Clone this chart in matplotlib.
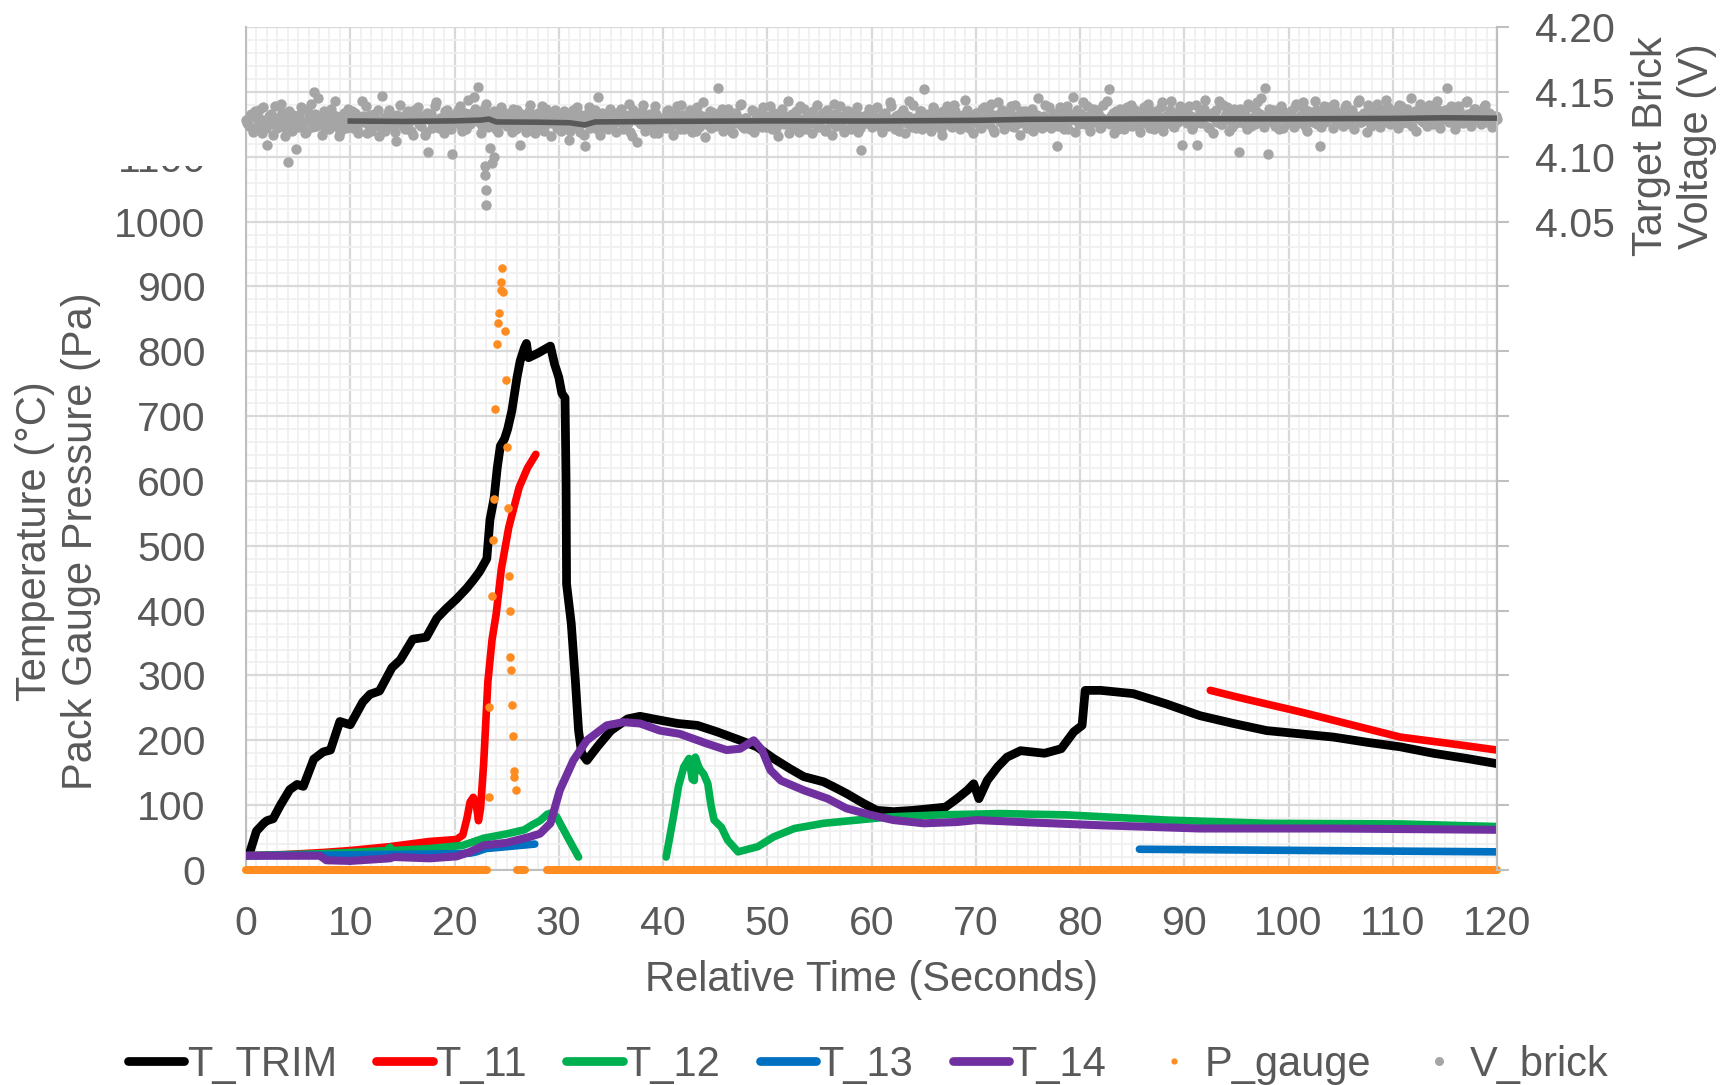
import numpy as np
import matplotlib
matplotlib.use("Agg")
import matplotlib.pyplot as plt
from matplotlib.lines import Line2D
from matplotlib.patches import Rectangle

plt.rcParams['font.family'] = ['Liberation Sans', 'DejaVu Sans']

# ---------------- data ----------------
trim_t = [0, 0.4, 1.0, 1.7, 2.0, 2.6, 3.3, 4.2, 4.9, 5.5, 6.5, 7.4, 8.1, 9.0, 10.0, 11.2, 11.9,
          12.8, 14.0, 14.8, 16.0, 17.3, 18.3, 19.2, 20.2, 21.2, 21.8, 22.4, 23.1, 23.4, 23.8,
          24.1, 24.4, 24.8, 25.1, 25.5, 26.0, 26.3, 26.7, 26.9, 27.1, 28.0, 29.2, 29.6, 30.0,
          30.3, 30.6, 30.7, 30.75, 31.2, 31.6, 31.9, 32.2, 32.7, 33.7, 35.0, 36.6, 37.8, 39.4,
          41.4, 43.3, 45.2, 47.4, 49.0, 50.6, 52.2, 53.5, 55.4, 56.4, 57.6, 59.2, 60.5, 62.1,
          64.0, 65.9, 67.1, 68.2, 69.2, 69.8, 70.3, 71.1, 72.1, 73.0, 74.3, 76.6, 78.2, 79.4,
          80.2, 80.5, 82.0, 85.1, 88.3, 91.5, 94.7, 97.9, 101.1, 104.3, 107.5, 110.7, 113.9,
          117.1, 120.0]
trim_v = [22, 29, 60, 72, 76, 79, 100, 124, 132, 129, 171, 182, 185, 229, 224, 259, 271,
          276, 312, 324, 356, 359, 388, 403, 418, 435, 447, 460, 480, 540, 574,
          620, 654, 665, 680, 708, 760, 785, 805, 812, 790, 797, 808, 780, 760,
          735, 728, 600, 441, 380, 290, 215, 180, 169, 190, 215, 233, 237, 232,
          226, 223, 213, 200, 190, 172, 156, 144, 136, 128, 118, 103, 92, 90,
          92, 95, 97, 110, 123, 133, 110, 138, 159, 174, 184, 180, 187, 213,
          223, 277, 277, 272, 256, 238, 226, 215, 210, 205, 197, 190, 180,
          172, 164]

t11_a_t = [0, 4.0, 7.4, 10.0, 13.8, 17.6, 20.2, 20.8, 21.2, 21.5, 21.8, 22.1, 22.3, 22.5,
           22.8, 23.2, 23.6, 24.0, 24.5, 25.2, 26.2, 27.0, 27.8]
t11_a_v = [22, 24, 27, 30, 36, 44, 47, 54, 80, 105, 112, 100, 76, 95,
           165, 290, 355, 395, 465, 528, 590, 620, 641]
t11_b_t = [92.5, 95.0, 97.9, 101.1, 104.3, 107.5, 110.7, 115.0, 120.0]
t11_b_v = [277, 267, 256, 244, 231, 218, 205, 196, 185]

t12_a_t = [0, 7.1, 10.0, 13.5, 13.8, 14.1, 17.6, 20.8, 22.8, 25.1, 26.7, 27.5, 28.2, 28.9,
           29.3, 29.8, 30.8, 31.9]
t12_a_v = [22, 25, 27, 30, 35, 30, 33, 38, 49, 56, 62, 70, 76, 86,
           88, 82, 52, 20]
t12_b_t = [40.3, 41.0, 41.5, 42.0, 42.5, 42.8, 43.0, 43.1, 43.4, 43.6, 43.9, 44.3, 44.6, 44.9,
           45.6, 46.2, 47.2, 49.1, 50.6, 52.6, 55.4, 58.6, 61.8, 66.6, 72.3, 78.7, 88.3,
           97.9, 110.7, 120.0]
t12_b_v = [20, 82, 130, 159, 172, 140, 138, 174, 160, 154, 148, 133, 100, 77,
           66, 46, 28, 36, 51, 64, 72, 77, 82, 85, 87, 85, 77,
           72, 71, 67]

t13_a_t = [0, 7.7, 13.0, 20.0, 21.5, 22.1, 23.0, 25.0, 27.7]
t13_a_v = [22, 23, 24, 25, 26, 28, 33, 36, 40]
t13_b_t = [85.7, 120.0]
t13_b_v = [32, 28]

t14_t = [0, 7.1, 7.7, 10.0, 13.8, 14.2, 17.6, 20.2, 21.5, 22.8, 25.0, 27.2, 28.2, 29.2, 30.1,
         31.4, 32.7, 34.6, 36.2, 37.8, 39.7, 41.6, 44.2, 46.1, 47.4, 48.7, 49.5, 50.3, 51.3,
         53.5, 55.8, 57.6, 59.9, 62.1, 65.0, 68.2, 70.1, 74.3, 81.9, 91.5, 104.3, 120.0]
t14_v = [22, 22, 15, 14, 18, 20, 18, 21, 28, 38, 42, 51, 56, 72, 123,
         169, 200, 223, 228, 226, 215, 210, 195, 185, 187, 200, 185, 154, 138,
         123, 110, 95, 85, 77, 72, 74, 77, 74, 69, 64, 64, 62]

p_spike_t = [23.3, 23.3, 23.6, 23.7, 23.8, 23.9, 24.1, 24.2, 24.3, 24.5, 24.5, 24.6,
             24.7, 24.8, 24.9, 25.0, 25.1, 25.2, 25.3, 25.3, 25.4, 25.5, 25.6, 25.7,
             25.75, 25.9]
p_spike_v = [113, 251, 423, 509, 572, 711, 811, 844, 859, 894, 906, 928,
             892, 831, 755, 652, 559, 453, 400, 329, 309, 254, 206, 152,
             143, 124]
p_zero_start = [0.0, 26.0, 28.9]
p_zero_end = [23.1, 26.8, 120.0]

# V_brick (mV): readings every 0.25 s from 0 to 120 s ...
v_brick_mv = [
    4128, 4124, 4133, 4121, 4130, 4136, 4118, 4127, 4109, 4131, 4125, 4139, 4122, 4129, 4134, 4116, 4096, 4127, 4132, 4106,
    4123, 4138, 4126, 4119, 4131, 4141, 4150, 4124, 4129, 4117, 4135, 4127, 4121, 4133, 4143, 4126, 4119, 4130, 4124, 4137,
    4129, 4122, 4134, 4118, 4127, 4131, 4139, 4125, 4120, 4133, 4128, 4116, 4147, 4130, 4123, 4136, 4126, 4119, 4132, 4140,
    4125, 4121, 4135, 4128, 4117, 4131, 4138, 4124, 4129, 4119, 4104, 4133, 4127, 4142, 4122, 4130, 4118, 4136, 4126, 4102,
    4131, 4127, 4139, 4120, 4134, 4144, 4125, 4129, 4137, 4154, 4118, 4132, 4141, 4123, 4128, 4135, 4121, 4130, 4138, 4126,
    4124, 4133, 4119, 4129, 4136, 4109, 4127, 4122, 4131, 4140, 4125, 4118, 4134, 4128, 4121, 4137, 4130, 4116, 4126, 4133,
    4129, 4120, 4135, 4127, 4113, 4131, 4124, 4138, 4119, 4126, 4108, 4133, 4122, 4129, 4136, 4146, 4117, 4128, 4132, 4121,
    4134, 4125, 4119, 4130, 4137, 4123, 4128, 4141, 4116, 4131, 4111, 4126, 4135, 4120, 4129, 4133, 4124, 4139, 4118, 4127,
    4130, 4122, 4136, 4128, 4117, 4133, 4125, 4140, 4121, 4129, 4134, 4119, 4127, 4138, 4123, 4131, 4115, 4126, 4135, 4129,
    4124, 4153, 4132, 4120, 4128, 4137, 4125, 4118, 4133, 4129, 4141, 4122, 4130, 4126, 4136, 4119, 4128, 4134, 4123, 4131,
    4127, 4139, 4121, 4130, 4116, 4134, 4126, 4131, 4143, 4122, 4128, 4135, 4119, 4129, 4137, 4124, 4132, 4118, 4127, 4140,
    4125, 4131, 4120, 4136, 4128, 4117, 4133, 4126, 4139, 4122, 4130, 4135, 4121, 4128, 4134, 4119, 4105, 4131, 4126, 4137,
    4123, 4130, 4138, 4127, 4119, 4134, 4125, 4142, 4129, 4121, 4132, 4126, 4136, 4118, 4131, 4127, 4140, 4122, 4129, 4135,
    4152, 4124, 4131, 4120, 4137, 4128, 4133, 4117, 4126, 4139, 4130, 4123, 4135, 4127, 4121, 4132, 4144, 4125, 4129, 4118,
    4134, 4127, 4122, 4138, 4130, 4125, 4141, 4119, 4132, 4128, 4136, 4121, 4129, 4134, 4124, 4140, 4127, 4117, 4131, 4135,
    4126, 4133, 4120, 4129, 4145, 4124, 4131, 4127, 4138, 4122, 4130, 4108, 4134, 4126, 4121, 4139, 4128, 4133, 4119, 4136,
    4129, 4142, 4125, 4131, 4120, 4137, 4127, 4134, 4123, 4140, 4128, 4152, 4131, 4118, 4135, 4126, 4132, 4121, 4138, 4129,
    4124, 4136, 4130, 4119, 4133, 4127, 4141, 4122, 4129, 4135, 4125, 4138, 4120, 4131, 4127, 4143, 4123, 4134, 4128, 4109,
    4132, 4126, 4139, 4121, 4130, 4109, 4135, 4127, 4144, 4123, 4131, 4118, 4136, 4129, 4125, 4140, 4133, 4120, 4128, 4137,
    4126, 4104, 4134, 4129, 4121, 4138, 4130, 4125, 4142, 4133, 4127, 4153, 4102, 4131, 4136, 4124, 4129, 4139, 4122, 4132,
    4128, 4135, 4123, 4141, 4130, 4126, 4137, 4120, 4133, 4129, 4143, 4125, 4108, 4134, 4127, 4138, 4131, 4122, 4136, 4129,
    4133, 4124, 4140, 4128, 4135, 4121, 4131, 4144, 4127, 4134, 4119, 4137, 4130, 4126, 4141, 4123, 4132, 4128, 4138, 4125,
    4131, 4136, 4122, 4139, 4129, 4134, 4126, 4145, 4132, 4120, 4137, 4128, 4135, 4124, 4140, 4131, 4127, 4143, 4122, 4133,
    4136, 4153, 4128, 4134, 4121, 4139, 4130, 4126, 4142, 4133, 4124, 4137, 4129, 4131, 4125, 4138, 4127, 4134, 4123, 4130,
    4129]
# ... and the readings in between (0.125 s, 0.375 s, ..., 119.875 s)
v_brick_mv_mid = [
    4126, 4131, 4119, 4135, 4124, 4129, 4138, 4122, 4127, 4133, 4117, 4130, 4126, 4141, 4123, 4128, 4135, 4120, 4129, 4125,
    4132, 4127, 4118, 4136, 4129, 4123, 4133, 4145, 4126, 4130, 4121, 4128, 4137, 4124, 4131, 4116, 4127, 4134, 4122, 4129,
    4135, 4126, 4121, 4130, 4143, 4127, 4118, 4132, 4125, 4129, 4136, 4123, 4128, 4120, 4134, 4127, 4131, 4112, 4126, 4130,
    4123, 4133, 4127, 4120, 4136, 4129, 4125, 4131, 4117, 4134, 4128, 4122, 4139, 4126, 4130, 4124, 4135, 4128, 4121, 4132,
    4127, 4136, 4124, 4130, 4121, 4133, 4128, 4146, 4131, 4127, 4124, 4137, 4129, 4133, 4125, 4128, 4119, 4131, 4126, 4134,
    4130, 4125, 4137, 4121, 4128, 4133, 4126, 4119, 4135, 4129, 4124, 4131, 4127, 4139, 4120, 4132, 4126, 4129, 4136, 4122,
    4127, 4134, 4124, 4130, 4120, 4136, 4128, 4125, 4132, 4117, 4129, 4138, 4126, 4131, 4121, 4127, 4134, 4124, 4130, 4137,
    4123, 4129, 4134, 4127, 4121, 4132, 4126, 4119, 4136, 4128, 4130, 4125, 4140, 4122, 4131, 4127, 4118, 4133, 4129, 4124,
    4128, 4135, 4123, 4130, 4126, 4139, 4121, 4132, 4127, 4124, 4136, 4129, 4120, 4133, 4127, 4142, 4125, 4130, 4122, 4134,
    4129, 4126, 4137, 4123, 4131, 4128, 4119, 4134, 4126, 4140, 4124, 4130, 4127, 4121, 4135, 4129, 4125, 4132, 4138, 4123,
    4131, 4126, 4134, 4122, 4129, 4137, 4125, 4130, 4118, 4133, 4128, 4124, 4139, 4127, 4121, 4132, 4126, 4135, 4129, 4123,
    4128, 4134, 4121, 4130, 4126, 4141, 4124, 4131, 4127, 4119, 4135, 4129, 4125, 4132, 4138, 4122, 4128, 4126, 4133, 4129,
    4136, 4125, 4130, 4122, 4133, 4128, 4124, 4139, 4127, 4131, 4120, 4134, 4129, 4126, 4143, 4123, 4130, 4127, 4135, 4121,
    4129, 4133, 4126, 4138, 4124, 4130, 4121, 4135, 4128, 4125, 4132, 4140, 4127, 4123, 4131, 4128, 4136, 4122, 4130, 4127,
    4132, 4124, 4137, 4129, 4126, 4134, 4121, 4130, 4142, 4127, 4125, 4133, 4128, 4139, 4123, 4131, 4126, 4135, 4129, 4122,
    4130, 4137, 4125, 4132, 4128, 4122, 4140, 4129, 4126, 4134, 4131, 4124, 4138, 4127, 4133, 4121, 4130, 4146, 4128, 4125,
    4133, 4127, 4139, 4124, 4131, 4128, 4136, 4122, 4130, 4127, 4143, 4125, 4134, 4129, 4121, 4137, 4131, 4126, 4133, 4140,
    4127, 4134, 4123, 4131, 4138, 4126, 4129, 4135, 4121, 4132, 4128, 4142, 4125, 4130, 4136, 4124, 4133, 4127, 4139, 4129,
    4135, 4128, 4131, 4124, 4140, 4129, 4126, 4137, 4132, 4122, 4134, 4130, 4127, 4143, 4125, 4131, 4138, 4128, 4123, 4134,
    4129, 4137, 4126, 4132, 4141, 4124, 4130, 4135, 4128, 4145, 4123, 4131, 4137, 4127, 4134, 4129, 4121, 4136, 4130, 4126,
    4133, 4129, 4138, 4126, 4131, 4142, 4124, 4135, 4130, 4127, 4136, 4132, 4123, 4139, 4128, 4134, 4130, 4141, 4126, 4132,
    4129, 4138, 4131, 4125, 4136, 4130, 4142, 4127, 4133, 4128, 4140, 4124, 4135, 4131, 4127, 4137, 4129, 4144, 4126, 4134,
    4128, 4133, 4140, 4126, 4131, 4137, 4129, 4124, 4135, 4130, 4141, 4127, 4134, 4129, 4138, 4125, 4132, 4136, 4128, 4131,
    4134, 4127, 4139, 4130, 4125, 4136, 4132, 4128, 4143, 4126, 4131, 4137, 4129, 4134, 4127, 4140, 4130, 4133, 4126, 4131]
v_dip_t = [22.9, 22.95, 23.0, 23.0, 23.45, 23.6, 23.8]
v_dip_v = [4.093, 4.086, 4.074, 4.063, 4.107, 4.095, 4.100]

trend_t = [10, 15, 20, 22.5, 23.3, 24, 28, 31, 32.5, 33.5, 40, 50, 60, 70, 75, 80, 90, 100, 110, 115, 120]
trend_v = [4.1275, 4.1272, 4.1276, 4.1282, 4.1290, 4.1268, 4.1266, 4.1262, 4.1245, 4.1268, 4.1272,
           4.1276, 4.1275, 4.1280, 4.1288, 4.1290, 4.1292, 4.1292, 4.1295, 4.1300, 4.1297]

x_ticks = list(range(0, 121, 10))
y_ticks = list(range(0, 1301, 100))
v_ticks = [3.55, 3.60, 3.65, 3.70, 3.75, 3.80, 3.85, 3.90, 3.95, 4.00, 4.05, 4.10, 4.15, 4.20]
v_labels = ['', '', '', '', '', '', '', '', '', '', '4.05', '4.10', '4.15', '4.20']

labels = ['T_TRIM', 'T_11', 'T_12', 'T_13', 'T_14', 'P_gauge', 'V_brick']

# ---------------- styling ----------------
TXT = '#595959'
C_TRIM, C_11, C_12, C_13, C_14 = '#000000', '#FF0000', '#00B050', '#0070C0', '#7030A0'
C_P, C_V, C_TREND = '#FF8C21', '#A5A5A5', '#595959'
FS = 30
LW_T, LW = 6.3, 5.5

W, H = 1726, 1085
fig = plt.figure(figsize=(W / 100, H / 100), dpi=100)
L, R, T, B = 246, 1497, 27, 870
ax = fig.add_axes([L / W, 1 - B / H, (R - L) / W, (B - T) / H])
ax.set_xlim(0, 120)
ax.set_ylim(0, 1300)
ax.set_xticks(x_ticks)
ax.set_xticks(np.arange(0, 121, 1), minor=True)
ax.set_yticks(y_ticks)
ax.set_yticks(np.arange(0, 1301, 20), minor=True)
ax.grid(which='minor', color='#F0F0F0', lw=1.3)
ax.grid(which='major', color='#D9D9D9', lw=1.6)
ax.set_axisbelow(True)
ax.tick_params(axis='both', which='both', length=0, labelsize=29.5, labelcolor=TXT)
ax.tick_params(axis='y', pad=29)
ax.tick_params(axis='x', pad=25)
ax.spines['top'].set_visible(False)
for s in ['left', 'right', 'bottom']:
    ax.spines[s].set_color('#BFBFBF')
    ax.spines[s].set_linewidth(1.5)

lkw = dict(solid_joinstyle='round', solid_capstyle='round')
ax.plot(trim_t, trim_v, color=C_TRIM, lw=LW_T, zorder=3, **lkw)
ax.plot(t11_a_t, t11_a_v, color=C_11, lw=LW, zorder=4, **lkw)
ax.plot(t11_b_t, t11_b_v, color=C_11, lw=LW, zorder=4, **lkw)
ax.plot(t12_a_t, t12_a_v, color=C_12, lw=LW, zorder=5, **lkw)
ax.plot(t12_b_t, t12_b_v, color=C_12, lw=LW, zorder=5, **lkw)
ax.plot(t13_a_t, t13_a_v, color=C_13, lw=LW, zorder=6, **lkw)
ax.plot(t13_b_t, t13_b_v, color=C_13, lw=LW, zorder=6, **lkw)
ax.plot(t14_t, t14_v, color=C_14, lw=5.8, zorder=7, **lkw)
for a, b in zip(p_zero_start, p_zero_end):
    ax.plot([a, b], [0, 0], color=C_P, lw=5.8, solid_capstyle='round', zorder=8, clip_on=False)
ax.scatter(p_spike_t, p_spike_v, s=38, color=C_P, lw=0, zorder=8)

ax2 = ax.twinx()
ax2.set_ylim(3.55, 4.20)
ax2.set_yticks(v_ticks)
ax2.set_yticklabels(v_labels)
ax2.tick_params(axis='y', length=8.6, width=1.5, color='#BFBFBF', labelsize=29.5,
                labelcolor=TXT, pad=19)
for s in ['top', 'bottom', 'left']:
    ax2.spines[s].set_visible(False)
ax2.spines['right'].set_color('#BFBFBF')
ax2.spines['right'].set_linewidth(1.5)
v_time = np.linspace(0, 120, len(v_brick_mv))
v_time_mid = np.linspace(0.125, 119.875, len(v_brick_mv_mid))
vk = dict(s=56, color=C_V, lw=0, zorder=2, clip_on=False)
ax2.scatter(v_time, np.array(v_brick_mv) / 1000.0, **vk)
ax2.scatter(v_time_mid, np.array(v_brick_mv_mid) / 1000.0, **vk)
ax2.scatter(v_dip_t, v_dip_v, **vk)
ax2.plot(trend_t, trend_v, color=C_TREND, lw=4.0, zorder=3)

# cover the partially hidden top-left labels, as in the reference
fig.add_artist(Rectangle((0, 1 - 166 / H), 236 / W, 166 / H, transform=fig.transFigure,
                         facecolor='white', edgecolor='none', zorder=10))

fig.text(871 / W, 1 - 980 / H, 'Relative Time (Seconds)', ha='center', va='center',
         fontsize=FS, color=TXT)
fig.text(58 / W, 1 - 541 / H, 'Temperature (°C)\nPack Gauge Pressure (Pa)', rotation=90,
         ha='center', va='center', multialignment='center', fontsize=FS, color=TXT)
fig.text(1674 / W, 1 - 146 / H, 'Target Brick\nVoltage (V)', rotation=90,
         ha='center', va='center', multialignment='center', fontsize=FS, color=TXT)

handles = [Line2D([], [], color=C_TRIM, lw=6.3, solid_capstyle='round'),
           Line2D([], [], color=C_11, lw=6.3, solid_capstyle='round'),
           Line2D([], [], color=C_12, lw=6.3, solid_capstyle='round'),
           Line2D([], [], color=C_13, lw=6.3, solid_capstyle='round'),
           Line2D([], [], color=C_14, lw=6.3, solid_capstyle='round'),
           Line2D([], [], ls='none', marker='o', ms=4.5, color=C_P, mew=0),
           Line2D([], [], ls='none', marker='o', ms=6.5, color=C_V, mew=0)]
fig.legend(handles, labels, loc='center', bbox_to_anchor=(868 / W, 1 - 1065 / H), ncol=7,
           frameon=False, fontsize=FS, handlelength=1.35, handletextpad=0.06,
           columnspacing=0.95, labelcolor=TXT, borderaxespad=0, borderpad=0)

fig.savefig('out.png', dpi=100)
